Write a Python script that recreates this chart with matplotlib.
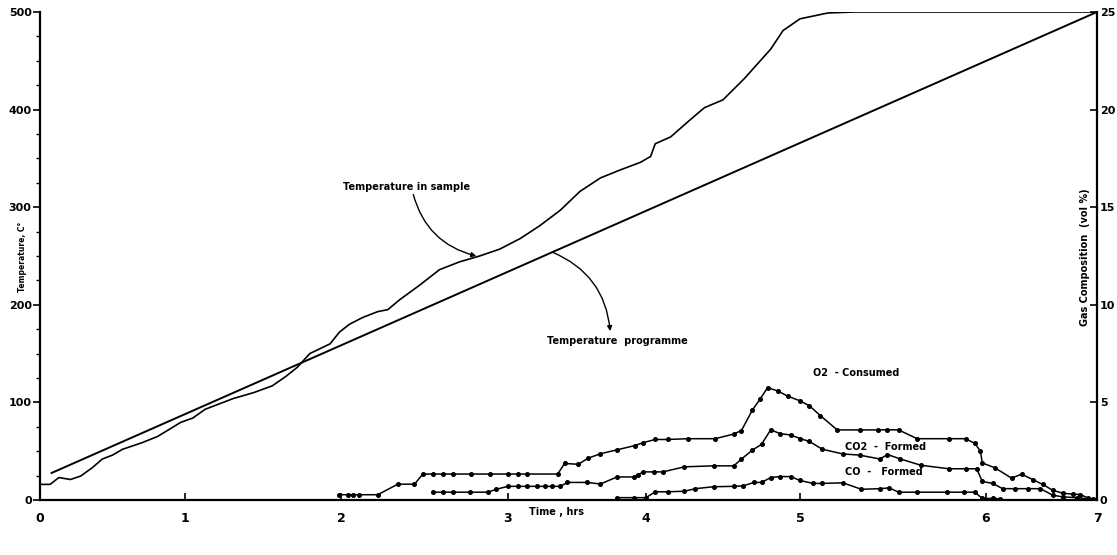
import numpy as np
import matplotlib.pyplot as plt

# time axis was hand drawn: the hour ticks are not evenly spaced
hour_ticks = [0, 1, 2, 3, 4, 5, 6, 7]
hour_tick_pos = [40, 185, 341, 508, 646, 800, 986, 1097]

# temperature in sample (deg C)
sample_t = [0.01, 0.07, 0.13, 0.21, 0.28, 0.36, 0.43, 0.50, 0.57, 0.70,
            0.81, 0.97, 1.05, 1.13, 1.31, 1.44, 1.56, 1.65, 1.72, 1.80,
            1.93, 1.99, 2.05, 2.13, 2.22, 2.28, 2.35, 2.47, 2.59, 2.71,
            2.83, 2.95, 3.09, 3.23, 3.38, 3.52, 3.67, 3.81, 3.96, 4.03,
            4.06, 4.16, 4.29, 4.38, 4.50, 4.64, 4.81, 4.89, 5.00, 5.15,
            5.29, 7.00]
sample_T = [16, 16, 23, 21, 24.5, 33, 42, 46, 52, 58.5,
            65, 79.5, 84, 93, 104, 110, 117, 127, 136, 150,
            160, 172, 180, 187, 193, 195, 205, 220, 236, 244,
            250, 257, 268, 281, 297, 316, 330, 338, 346, 352,
            365, 372, 390, 402, 410, 432, 462, 481, 493, 499,
            500, 500]

# temperature programme
prog_t = [0.08, 7.0]
prog_T = [27.7, 500]

# gas composition (vol %)
o2_t = [1.99, 2.04, 2.07, 2.11, 2.22, 2.34, 2.44, 2.49, 2.55, 2.61,
        2.67, 2.78, 2.89, 3.00, 3.07, 3.14, 3.36, 3.41, 3.51, 3.58,
        3.67, 3.79, 3.92, 3.98, 4.06, 4.14, 4.27, 4.45, 4.57, 4.62,
        4.69, 4.74, 4.79, 4.86, 4.92, 5.00, 5.05, 5.11, 5.20, 5.32,
        5.42, 5.47, 5.53, 5.63, 5.80, 5.89, 5.94, 5.97, 5.98, 6.08,
        6.23, 6.32, 6.42, 6.51, 6.60, 6.69, 6.78, 6.85, 6.92, 7.00]
o2_v = [0.27, 0.27, 0.27, 0.27, 0.27, 0.81, 0.81, 1.33, 1.33, 1.33,
        1.33, 1.33, 1.33, 1.33, 1.33, 1.33, 1.33, 1.87, 1.83, 2.14,
        2.37, 2.57, 2.79, 2.94, 3.10, 3.10, 3.14, 3.14, 3.38, 3.56,
        4.60, 5.16, 5.76, 5.57, 5.32, 5.08, 4.83, 4.32, 3.59, 3.59,
        3.59, 3.60, 3.59, 3.14, 3.14, 3.14, 2.90, 2.50, 1.90, 1.65,
        1.12, 1.32, 1.05, 0.80, 0.50, 0.35, 0.30, 0.28, 0.10, 0.03]

co2_t = [2.55, 2.61, 2.67, 2.77, 2.88, 2.93, 3.00, 3.07, 3.14, 3.21,
         3.27, 3.32, 3.38, 3.43, 3.57, 3.67, 3.79, 3.91, 3.94, 3.98,
         4.05, 4.11, 4.25, 4.44, 4.57, 4.62, 4.69, 4.75, 4.81, 4.87,
         4.94, 5.00, 5.05, 5.12, 5.23, 5.32, 5.43, 5.47, 5.54, 5.65,
         5.80, 5.89, 5.95, 5.98, 6.06, 6.15, 6.26, 6.38, 6.49, 6.60,
         6.69, 6.82, 6.96]
co2_v = [0.40, 0.40, 0.40, 0.40, 0.40, 0.55, 0.70, 0.70, 0.70, 0.70,
         0.70, 0.70, 0.70, 0.90, 0.90, 0.82, 1.18, 1.18, 1.28, 1.44,
         1.44, 1.44, 1.70, 1.75, 1.75, 2.10, 2.55, 2.85, 3.60, 3.40,
         3.33, 3.15, 3.00, 2.60, 2.36, 2.30, 2.10, 2.33, 2.10, 1.78,
         1.60, 1.60, 1.60, 0.95, 0.85, 0.58, 0.58, 0.58, 0.58, 0.25,
         0.16, 0.12, 0.03]

co_t = [3.79, 3.91, 4.00, 4.06, 4.14, 4.25, 4.32, 4.44, 4.57, 4.63,
        4.70, 4.75, 4.81, 4.87, 4.94, 5.00, 5.07, 5.12, 5.23, 5.33,
        5.43, 5.48, 5.53, 5.63, 5.79, 5.88, 5.94, 5.98, 6.06, 6.13]
co_v = [0.12, 0.12, 0.12, 0.42, 0.42, 0.45, 0.58, 0.68, 0.70, 0.72,
        0.90, 0.90, 1.15, 1.20, 1.20, 1.00, 0.85, 0.85, 0.88, 0.55,
        0.58, 0.62, 0.40, 0.40, 0.40, 0.40, 0.40, 0.08, 0.08, 0.06]


def fwd(h):
    return np.interp(h, hour_ticks, hour_tick_pos)


def inv(p):
    return np.interp(p, hour_tick_pos, hour_ticks)


fig = plt.figure(figsize=(11.17, 5.55), dpi=100)
ax = fig.add_axes([0.0358, 0.0991, 0.9463, 0.8793])
ax.set_xscale('function', functions=(fwd, inv))
ax2 = ax.twinx()

# temperatures
ax.plot(sample_t, sample_T, color='black', lw=1.2)
ax.plot(prog_t, prog_T, color='black', lw=1.4)

# gases
mk = dict(color='black', lw=1.1, marker='o', ms=2.6)
ax2.plot(o2_t, o2_v, **mk)
ax2.plot(co2_t, co2_v, **mk)
ax2.plot(co_t, co_v, **mk)

ax.set_xlim(0, 7)
ax.set_ylim(0, 500)
ax2.set_ylim(0, 25)

ax.set_xticks(hour_ticks)
ax.set_xticklabels([str(h) for h in hour_ticks], fontsize=9, fontweight='bold')
ax.set_yticks(range(0, 501, 100))
ax.set_yticks(range(0, 501, 25), minor=True)
ax.set_yticklabels([str(v) for v in range(0, 501, 100)], fontsize=8, fontweight='bold')
ax2.set_yticks(range(0, 26, 5))
ax2.set_yticklabels([str(v) for v in range(0, 26, 5)], fontsize=8, fontweight='bold')

ax.tick_params(axis='x', direction='in', length=5, width=1.2, pad=9)
ax.tick_params(axis='y', which='major', direction='out', length=5, width=1.2, pad=1)
ax.tick_params(axis='y', which='minor', direction='out', length=3, width=1.0)
ax2.tick_params(axis='y', direction='in', length=5, width=1.2, pad=2)

for s in ['top', 'right']:
    ax.spines[s].set_visible(False)
for s in ['top', 'left', 'bottom']:
    ax2.spines[s].set_visible(False)
ax.spines['left'].set_linewidth(1.6)
ax.spines['bottom'].set_linewidth(1.6)
ax2.spines['right'].set_linewidth(1.6)

lab = dict(fontsize=7, fontweight='bold', color='black')

# axis titles
fig.text(0.0197, 0.537, 'Temperature, C°', rotation=90, ha='center', va='center',
         fontsize=5.5, fontweight='bold')
fig.text(0.971, 0.537, 'Gas Composition  (vol %)', rotation=90, ha='center', va='center', **lab)
ax.text(0.489, -0.025, 'Time , hrs', transform=ax.transAxes, ha='center', va='center', **lab)

# curve labels
ax.annotate('Temperature in sample', xy=(2.81, 250), xytext=(2.01, 321),
            ha='left', va='center', **lab,
            arrowprops=dict(arrowstyle='-|>', color='black', lw=1.0,
                            mutation_scale=7, shrinkA=0, shrinkB=0,
                            connectionstyle='arc3,rad=0.3',
                            relpos=(0.55, 0.0)))
ax.annotate('', xy=(3.74, 173), xytext=(3.32, 254),
            arrowprops=dict(arrowstyle='-|>', color='black', lw=1.0,
                            mutation_scale=7, shrinkA=0, shrinkB=0,
                            connectionstyle='arc3,rad=-0.3'))
ax.text(3.28, 163, 'Temperature  programme', ha='left', va='center', **lab)

ax2.text(5.07, 6.5, 'O2  - Consumed', ha='left', va='center', **lab)
ax2.text(5.24, 2.7, 'CO2  -  Formed', ha='left', va='center', **lab)
ax2.text(5.24, 1.44, 'CO  -   Formed', ha='left', va='center', **lab)

fig.savefig('out.png', dpi=100)
